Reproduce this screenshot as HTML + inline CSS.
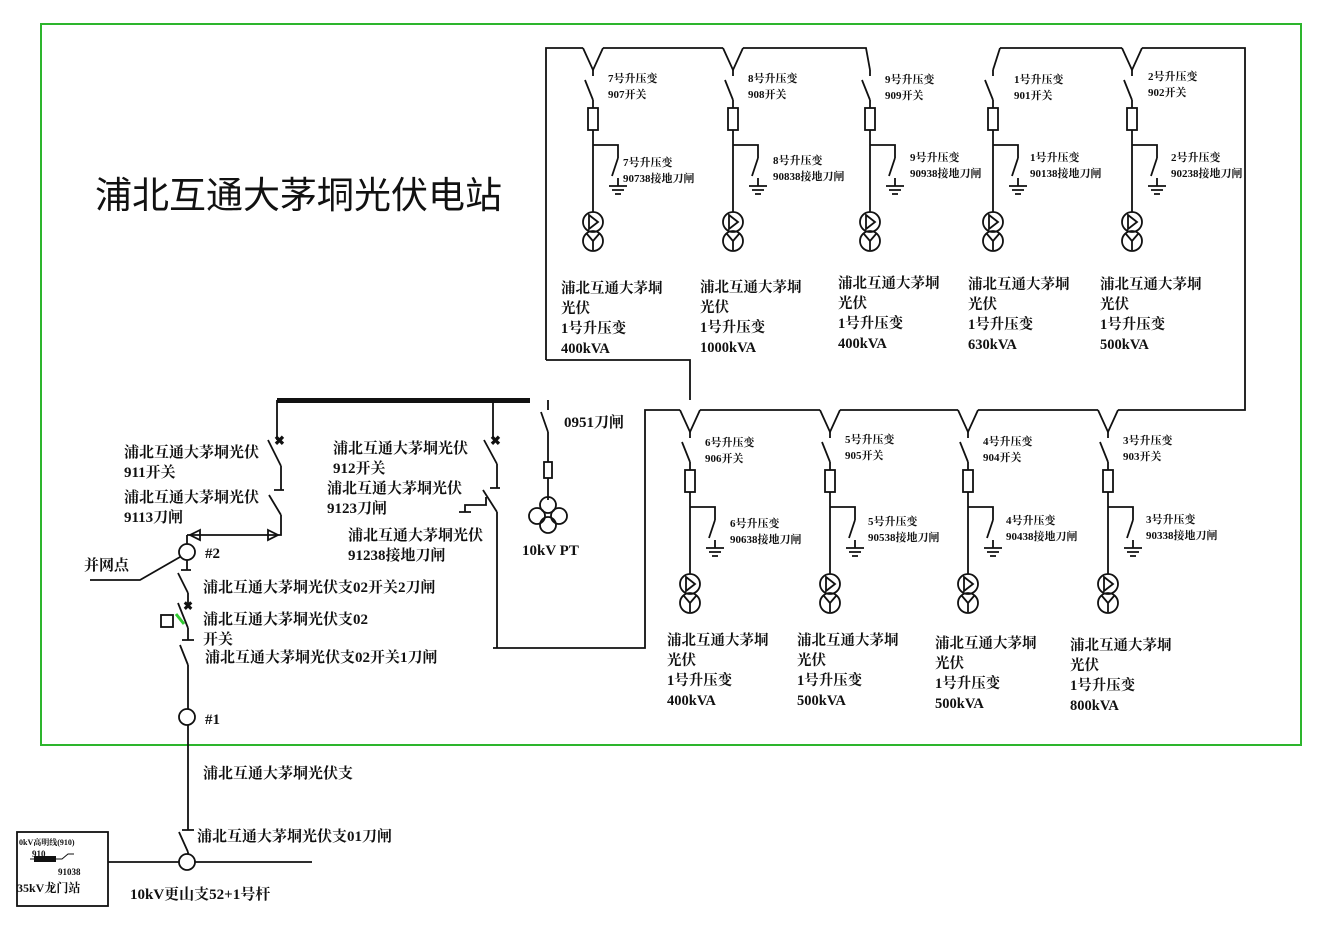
<!DOCTYPE html>
<html><head><meta charset="utf-8"><style>
body{margin:0;background:#fff}
svg{display:block}
text{font-family:"Liberation Serif","Noto Serif CJK SC","Noto Sans CJK SC",serif;font-weight:bold;fill:#111}
.s{font-size:11px}.m{font-size:14.5px}.l{font-size:15px}
</style></head><body>
<svg width="1318" height="942" viewBox="0 0 1318 942" xmlns="http://www.w3.org/2000/svg">
<defs>
<g id="sw" stroke="#111" stroke-width="1.8" fill="none">
<path d="M0 70 v6 M-8 80 L0 100 M0 100 V108"/>
<rect x="-5" y="108" width="10" height="22"/>
<path d="M0 130 V212 M0 145 H25 V158 M25 158 L19 176 M25 178 V186 M16 186 H34 M19 190 H31 M22 194 H28"/>
<circle cx="0" cy="222" r="10"/><circle cx="0" cy="241" r="10"/>
<path d="M-4 215 L5 222 L-4 229 Z"/>
<path d="M0 241 V250 M0 241 L-6 234 M0 241 L6 234"/>
</g>
<g id="fd"><path d="M-10 48 L0 70 L10 48" stroke="#111" stroke-width="1.8" fill="none"/><use href="#sw"/></g>
</defs>
<rect x="41" y="24" width="1260" height="721" fill="none" stroke="#2db52d" stroke-width="2"/>
<text x="95" y="208" style="font-size:37px;font-weight:normal;font-family:'Liberation Sans','Noto Sans CJK SC',sans-serif">浦北互通大茅垌光伏电站</text>

<g stroke="#111" stroke-width="1.8" fill="none">
<path d="M546 360 V48 H583 M603 48 H723 M743 48 H866 L870 70"/>
<path d="M546 360 H690 V400"/>
<path d="M1000 48 H1122 M1142 48 H1245 V410 H1118 M1098 410 H978 M958 410 H840 M820 410 H700 M680 410 H645 V648 H493"/>
<path d="M1000 48 L993 70"/>
</g>
<use href="#fd" x="593"/><use href="#fd" x="733"/><use href="#sw" x="870"/>
<use href="#sw" x="993"/>
<use href="#fd" x="1132"/>
<use href="#fd" x="690" y="362"/><use href="#fd" x="830" y="362"/><use href="#fd" x="968" y="362"/><use href="#fd" x="1108" y="362"/>

<text class="s" x="608" y="82">7号升压变</text><text class="s" x="608" y="98">907开关</text>
<text class="s" x="623" y="166">7号升压变</text><text class="s" x="623" y="182">90738接地刀闸</text>
<text class="s" x="748" y="82">8号升压变</text><text class="s" x="748" y="98">908开关</text>
<text class="s" x="773" y="164">8号升压变</text><text class="s" x="773" y="180">90838接地刀闸</text>
<text class="s" x="885" y="83">9号升压变</text><text class="s" x="885" y="99">909开关</text>
<text class="s" x="910" y="161">9号升压变</text><text class="s" x="910" y="177">90938接地刀闸</text>
<text class="s" x="1014" y="83">1号升压变</text><text class="s" x="1014" y="99">901开关</text>
<text class="s" x="1030" y="161">1号升压变</text><text class="s" x="1030" y="177">90138接地刀闸</text>
<text class="s" x="1148" y="80">2号升压变</text><text class="s" x="1148" y="96">902开关</text>
<text class="s" x="1171" y="161">2号升压变</text><text class="s" x="1171" y="177">90238接地刀闸</text>

<text class="m" x="561" y="293">浦北互通大茅垌</text><text class="m" x="561" y="313">光伏</text><text class="m" x="561" y="333">1号升压变</text><text class="m" x="561" y="353">400kVA</text>
<text class="m" x="700" y="292">浦北互通大茅垌</text><text class="m" x="700" y="312">光伏</text><text class="m" x="700" y="332">1号升压变</text><text class="m" x="700" y="352">1000kVA</text>
<text class="m" x="838" y="288">浦北互通大茅垌</text><text class="m" x="838" y="308">光伏</text><text class="m" x="838" y="328">1号升压变</text><text class="m" x="838" y="348">400kVA</text>
<text class="m" x="968" y="289">浦北互通大茅垌</text><text class="m" x="968" y="309">光伏</text><text class="m" x="968" y="329">1号升压变</text><text class="m" x="968" y="349">630kVA</text>
<text class="m" x="1100" y="289">浦北互通大茅垌</text><text class="m" x="1100" y="309">光伏</text><text class="m" x="1100" y="329">1号升压变</text><text class="m" x="1100" y="349">500kVA</text>

<text class="s" x="705" y="446">6号升压变</text><text class="s" x="705" y="462">906开关</text>
<text class="s" x="730" y="527">6号升压变</text><text class="s" x="730" y="543">90638接地刀闸</text>
<text class="s" x="845" y="443">5号升压变</text><text class="s" x="845" y="459">905开关</text>
<text class="s" x="868" y="525">5号升压变</text><text class="s" x="868" y="541">90538接地刀闸</text>
<text class="s" x="983" y="445">4号升压变</text><text class="s" x="983" y="461">904开关</text>
<text class="s" x="1006" y="524">4号升压变</text><text class="s" x="1006" y="540">90438接地刀闸</text>
<text class="s" x="1123" y="444">3号升压变</text><text class="s" x="1123" y="460">903开关</text>
<text class="s" x="1146" y="523">3号升压变</text><text class="s" x="1146" y="539">90338接地刀闸</text>

<text class="m" x="667" y="645">浦北互通大茅垌</text><text class="m" x="667" y="665">光伏</text><text class="m" x="667" y="685">1号升压变</text><text class="m" x="667" y="705">400kVA</text>
<text class="m" x="797" y="645">浦北互通大茅垌</text><text class="m" x="797" y="665">光伏</text><text class="m" x="797" y="685">1号升压变</text><text class="m" x="797" y="705">500kVA</text>
<text class="m" x="935" y="648">浦北互通大茅垌</text><text class="m" x="935" y="668">光伏</text><text class="m" x="935" y="688">1号升压变</text><text class="m" x="935" y="708">500kVA</text>
<text class="m" x="1070" y="650">浦北互通大茅垌</text><text class="m" x="1070" y="670">光伏</text><text class="m" x="1070" y="690">1号升压变</text><text class="m" x="1070" y="710">800kVA</text>

<rect x="277" y="398" width="253" height="5" fill="#111"/>
<g stroke="#111" stroke-width="1.8" fill="none">
<path d="M277 400 V440 M268 440 L281 466 M281 466 V490 M274 490 H284 M269 495 L281 515 M281 515 V535 H187"/>
<path d="M200 530 L190 535 L200 540 Z M268 530 L278 535 L268 540 Z"/>
<path d="M493 400 V438 M484 440 L497 464 M497 464 V488 M490 488 H500 M483 490 L497 512 M497 512 V648"/>
<path d="M486 497 V505 H465 V512 M459 512 H471"/>
<path d="M548 400 V410 M541 412 L548 432 M548 432 V462"/><rect x="544" y="462" width="8" height="16"/>
<path d="M548 478 V500"/>
<circle cx="548" cy="505" r="8"/><circle cx="537" cy="516" r="8"/><circle cx="559" cy="516" r="8"/><circle cx="548" cy="525" r="8"/>
<path d="M187 535 V544 M187 560 V570 M181 570 H191 M178 573 L188 593 M188 593 V605 M178 603 L188 628 M188 628 V640 M182 640 H194 M180 645 L188 665 M188 665 V709 M188 725 V830 M182 830 H194 M179 832 L188 852 M188 852 V854"/>
<circle cx="187" cy="552" r="8"/><circle cx="187" cy="717" r="8"/><circle cx="187" cy="862" r="8"/>
<path d="M90 580 H140 L180 557"/>
<path d="M108 862 H179 M195 862 H312"/>
<rect x="17" y="832" width="91" height="74"/>
<rect x="161" y="615" width="12" height="12"/>
</g>
<path d="M176 614 L184 624" stroke="#3c3" stroke-width="3"/>
<text x="274" y="445" style="font-size:13px">✖</text>
<text x="490" y="445" style="font-size:13px">✖</text>
<text x="183" y="610" style="font-size:12px">✖</text>
<rect x="34" y="856" width="22" height="6" fill="#111"/>
<path d="M30 859 H34 M56 859 H62 L68 854 H74" stroke="#111" fill="none"/>

<text class="l" x="124" y="457">浦北互通大茅垌光伏</text><text class="l" x="124" y="477">911开关</text>
<text class="l" x="124" y="502">浦北互通大茅垌光伏</text><text class="l" x="124" y="522">9113刀闸</text>
<text class="l" x="333" y="453">浦北互通大茅垌光伏</text><text class="l" x="333" y="473">912开关</text>
<text class="l" x="327" y="493">浦北互通大茅垌光伏</text><text class="l" x="327" y="513">9123刀闸</text>
<text class="l" x="348" y="540">浦北互通大茅垌光伏</text><text class="l" x="348" y="560">91238接地刀闸</text>
<text class="l" x="564" y="427">0951刀闸</text>
<text class="l" x="522" y="555">10kV PT</text>
<text class="l" x="205" y="558">#2</text>
<text class="l" x="84" y="570">并网点</text>
<text class="l" x="203" y="592">浦北互通大茅垌光伏支02开关2刀闸</text>
<text class="l" x="203" y="624">浦北互通大茅垌光伏支02</text>
<text class="l" x="203" y="644">开关</text>
<text class="l" x="205" y="662">浦北互通大茅垌光伏支02开关1刀闸</text>
<text class="l" x="205" y="724">#1</text>
<text class="l" x="203" y="778">浦北互通大茅垌光伏支</text>
<text class="l" x="197" y="841">浦北互通大茅垌光伏支01刀闸</text>
<text class="l" x="130" y="899">10kV更山支52+1号杆</text>
<text x="19" y="845" style="font-size:8px">0kV高明线(910)</text>
<text x="32" y="857" style="font-size:9px">910</text>
<text x="58" y="875" style="font-size:9px">91038</text>
<text x="17" y="892" style="font-size:12px">35kV龙门站</text>
</svg>
</body></html>
